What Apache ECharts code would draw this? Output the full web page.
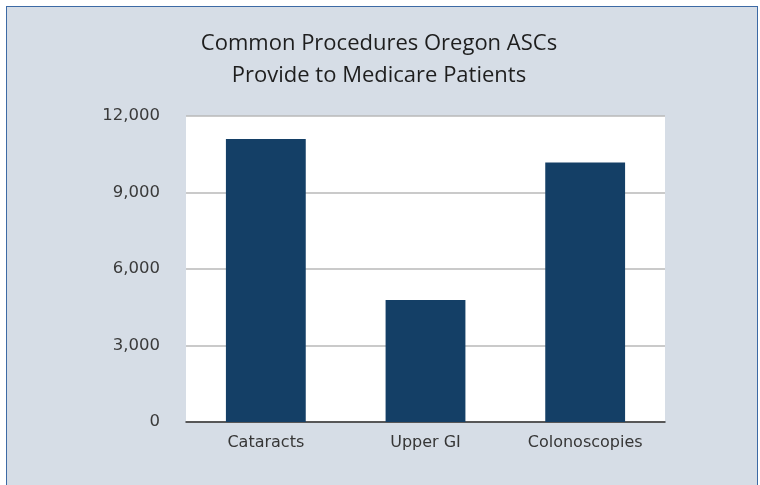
<!DOCTYPE html>
<html>
<head>
<meta charset="utf-8">
<script src="https://cdn.jsdelivr.net/npm/echarts@6/dist/echarts.min.js"></script>
<style>
  html, body { margin: 0; padding: 0; background: #ffffff; }
  #frame {
    position: absolute; left: 6px; top: 6px; width: 750px; height: 490px;
    background: #d6dde6; border: 1.5px solid #3d6aa5; border-bottom: none;
  }
  #chart { position: absolute; left: 0; top: 0; width: 760px; height: 485px; }
</style>
</head>
<body>
<div id="frame"></div>
<div id="chart"></div>
<script>
// 資料
var categories = ['Cataracts', 'Upper GI', 'Colonoscopies'];
var procedureCounts = [11100, 4780, 10180];
var yTicks = [0, 3000, 6000, 9000, 12000];

var chart = echarts.init(document.getElementById('chart'));

var option = {
    backgroundColor: 'transparent',
    animation: false,
    title: {
        text: 'Common Procedures Oregon ASCs\nProvide to Medicare Patients',
        left: 374,
        top: 23,
        textAlign: 'center',
        textStyle: {
            fontFamily: 'Open Sans',
            fontSize: 22,
            fontWeight: 'normal',
            color: '#1e1e1e',
            lineHeight: 32
        }
    },
    grid: {
        left: 186,
        right: 95,
        top: 116,
        bottom: 63,
        show: true,
        backgroundColor: '#ffffff',
        borderWidth: 0
    },
    xAxis: {
        type: 'category',
        data: categories,
        axisTick: { show: false },
        axisLine: { lineStyle: { color: '#333333', width: 1.5 } },
        axisLabel: {
            fontFamily: 'DejaVu Sans',
            fontSize: 16,
            color: '#363636',
            margin: 13
        }
    },
    yAxis: {
        type: 'value',
        min: yTicks[0],
        max: yTicks[yTicks.length - 1],
        interval: 3000,
        axisLine: { show: false },
        axisTick: { show: false },
        splitLine: { lineStyle: { color: '#b8b8b8', width: 1.5 } },
        axisLabel: {
            fontFamily: 'DejaVu Sans',
            fontSize: 16.5,
            color: '#3a3a3a',
            margin: 26,
            formatter: function (v) {
                return v.toLocaleString('en-US');
            }
        }
    },
    series: [{
        type: 'bar',
        data: procedureCounts,
        barWidth: '50%',
        itemStyle: { color: '#143f66' }
    }]
};

chart.setOption(option);
</script>
</body>
</html>
